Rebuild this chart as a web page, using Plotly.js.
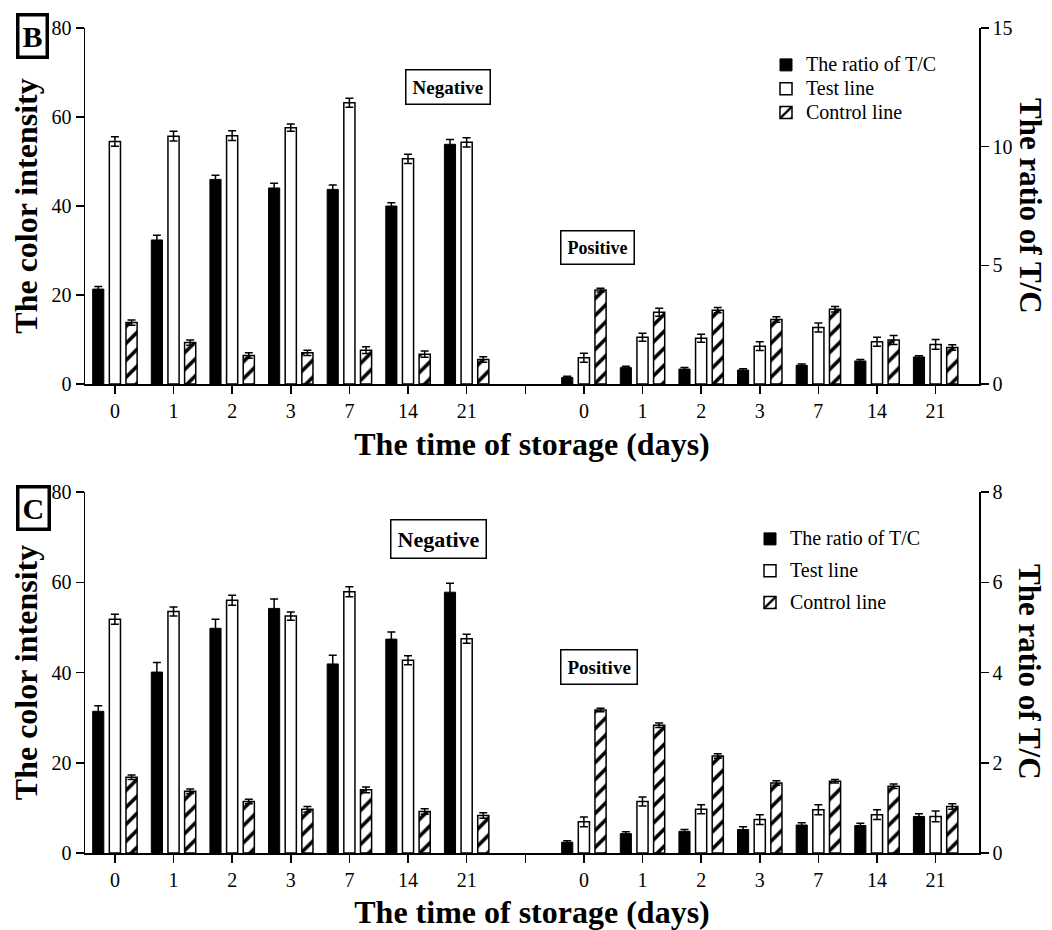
<!DOCTYPE html>
<html>
<head>
<meta charset="utf-8">
<script src="https://cdn.plot.ly/plotly-3.0.1.min.js"></script>
<style>html,body{margin:0;padding:0;background:#fff;}#chart{width:1052px;height:930px;}</style>
</head>
<body>
<div id="chart"></div>
<script>
// ---- data ----
const days = ['0', '1', '2', '3', '7', '14', '21'];

// Panel B
const bNegRatio = [4.0, 6.07, 8.62, 8.26, 8.2, 7.5, 10.1];
const bNegRatioErr = [0.11, 0.2, 0.18, 0.2, 0.18, 0.14, 0.2];
const bNegTest = [54.5, 55.7, 55.8, 57.6, 63.2, 50.6, 54.3];
const bNegTestErr = [1.05, 1.1, 1.1, 0.8, 1.0, 1.05, 1.05];
const bNegCtrl = [13.8, 9.3, 6.4, 7.0, 7.6, 6.7, 5.5];
const bNegCtrlErr = [0.6, 0.6, 0.6, 0.6, 0.75, 0.7, 0.6];
const bPosRatio = [0.28, 0.69, 0.63, 0.59, 0.79, 0.97, 1.14];
const bPosRatioErr = [0.05, 0.06, 0.07, 0.05, 0.05, 0.06, 0.05];
const bPosTest = [5.9, 10.5, 10.3, 8.5, 12.7, 9.5, 8.9];
const bPosTestErr = [1.0, 0.9, 0.9, 1.0, 1.0, 1.0, 1.1];
const bPosCtrl = [21.1, 16.1, 16.6, 14.5, 16.8, 9.9, 8.2];
const bPosCtrlErr = [0.4, 0.9, 0.6, 0.6, 0.6, 1.0, 0.6];

// Panel C
const cNegRatio = [3.14, 4.01, 4.98, 5.42, 4.19, 4.74, 5.78];
const cNegRatioErr = [0.125, 0.21, 0.2, 0.21, 0.19, 0.155, 0.2];
const cNegTest = [51.8, 53.5, 56.0, 52.5, 57.9, 42.7, 47.5];
const cNegTestErr = [1.1, 1.0, 1.1, 0.9, 1.1, 1.0, 1.0];
const cNegCtrl = [16.8, 13.7, 11.4, 9.7, 14.0, 9.2, 8.3];
const cNegCtrlErr = [0.5, 0.5, 0.5, 0.6, 0.65, 0.6, 0.6];
const cPosRatio = [0.24, 0.43, 0.48, 0.52, 0.62, 0.61, 0.81];
const cPosRatioErr = [0.03, 0.04, 0.04, 0.06, 0.05, 0.05, 0.06];
const cPosTest = [6.9, 11.4, 9.7, 7.4, 9.6, 8.5, 8.1];
const cPosTestErr = [1.1, 1.0, 1.0, 1.1, 1.1, 1.1, 1.2];
const cPosCtrl = [31.7, 28.3, 21.5, 15.5, 15.9, 14.8, 10.3];
const cPosCtrlErr = [0.4, 0.5, 0.5, 0.5, 0.4, 0.5, 0.6];

const seriesNames = ['The ratio of T/C', 'Test line', 'Control line'];
const groupLabels = ['Negative', 'Positive'];

// ---- build ----
const FONT = 'Liberation Serif, Times New Roman, serif';
const negX = days.map((d, i) => i);
const posX = days.map((d, i) => i + days.length + 1);
const xs = negX.concat(posX);
const tickVals = negX.concat([days.length]).concat(posX);
const tickText = days.concat(['']).concat(days);

const BW = 0.19, PITCH = 0.284;
function errY(arr) {
  return {type: 'data', array: arr, visible: true, color: 'black', thickness: 1.5, width: 4};
}
function legName(s, size) {
  return '<span style="font-size:' + size + 'px">' + s + '</span>';
}
function panelTraces(xa, yl, yr, legendId, ratio, ratioErr, test, testErr, ctrl, ctrlErr, gapName, nameSize) {
  return [
    {type: 'bar', name: legName(seriesNames[0], nameSize), x: xs, y: ratio, xaxis: xa, yaxis: yr, legend: legendId,
     legendgroup: gapName + 'a', width: BW, offset: -PITCH - BW / 2,
     marker: {color: 'black', line: {color: 'black', width: 1}}, error_y: errY(ratioErr), hoverinfo: 'y'},
    {type: 'bar', name: legName(seriesNames[1], nameSize), x: xs, y: test, xaxis: xa, yaxis: yl, legend: legendId,
     legendgroup: gapName + 'b', width: BW, offset: -BW / 2,
     marker: {color: 'white', line: {color: 'black', width: 1.5}}, error_y: errY(testErr), hoverinfo: 'y'},
    {type: 'bar', name: legName(seriesNames[2], nameSize), x: xs, y: ctrl, xaxis: xa, yaxis: yl, legend: legendId,
     legendgroup: gapName + 'c', width: BW, offset: PITCH - BW / 2,
     marker: {color: 'white', line: {color: 'black', width: 1.5},
              pattern: {shape: '/', fgcolor: 'black', bgcolor: 'white', size: 12, solidity: 0.3}},
     error_y: errY(ctrlErr), hoverinfo: 'y'}
  ];
}

const data = []
  .concat(panelTraces('x', 'y', 'y2', 'legend',
    bNegRatio.concat(bPosRatio), bNegRatioErr.concat(bPosRatioErr),
    bNegTest.concat(bPosTest), bNegTestErr.concat(bPosTestErr),
    bNegCtrl.concat(bPosCtrl), bNegCtrlErr.concat(bPosCtrlErr), 'B', 20))
  .concat(panelTraces('x2', 'y3', 'y4', 'legend2',
    cNegRatio.concat(cPosRatio), cNegRatioErr.concat(cPosRatioErr),
    cNegTest.concat(cPosTest), cNegTestErr.concat(cPosTestErr),
    cNegCtrl.concat(cPosCtrl), cNegCtrlErr.concat(cPosCtrlErr), 'C', 20));

const W = 1052, H = 930;
const px = v => v / W;
const py = v => 1 - v / H;
const xDomain = [px(85), px(979)];
const xRange = [-0.51, 14.74];

function xAxis(anchor) {
  return {
    domain: xDomain, range: xRange, anchor: anchor, tickmode: 'array', tickvals: tickVals, ticktext: tickText,
    showline: true, linecolor: 'black', linewidth: 1.5, ticks: 'outside', ticklen: 8, tickwidth: 1.5, tickcolor: 'black',
    showgrid: false, zeroline: false, tickfont: {family: FONT, size: 20, color: 'black'},
    title: {text: '<b>The time of storage (days)</b>', font: {family: FONT, size: 32, color: 'black'}, standoff: 12},
    fixedrange: true
  };
}
function yLeft(domain, anchor) {
  return {
    domain: domain, range: [0, 80], anchor: anchor, tickvals: [0, 20, 40, 60, 80],
    showline: true, linecolor: 'black', linewidth: 1.5, ticks: 'outside', ticklen: 8, tickwidth: 1.5, tickcolor: 'black',
    showgrid: false, zeroline: false, tickfont: {family: FONT, size: 20, color: 'black'},
    title: {text: '<b>The color intensity</b>', font: {family: FONT, size: 32, color: 'black'}, standoff: 4},
    fixedrange: true
  };
}
function yRight(overlay, anchor, max, dtick) {
  return {
    overlaying: overlay, side: 'right', anchor: anchor, range: [0, max], tick0: 0, dtick: dtick,
    showline: true, linecolor: 'black', linewidth: 1.5, ticks: 'outside', ticklen: 8, tickwidth: 1.5, tickcolor: 'black',
    showgrid: false, zeroline: false, tickfont: {family: FONT, size: 20, color: 'black'},
    fixedrange: true
  };
}

const bDomain = [py(384), py(28)];
const cDomain = [py(853), py(492)];

function boxLabel(text, x, y, size, pad, bw) {
  return {text: text, xref: 'paper', yref: 'paper', x: px(x), y: py(y), xanchor: 'center', yanchor: 'middle',
          showarrow: false, font: {family: FONT, size: size, color: 'black'},
          bordercolor: 'black', borderwidth: bw, borderpad: pad, bgcolor: 'white'};
}
function rightTitle(y) {
  return {text: '<b>The ratio of T/C</b>', xref: 'paper', yref: 'paper', x: px(1030), y: py(y),
          xanchor: 'center', yanchor: 'middle', textangle: 90, showarrow: false,
          font: {family: FONT, size: 31, color: 'black'}};
}

const layout = {
  width: W, height: H, margin: {l: 0, r: 0, t: 0, b: 0},
  paper_bgcolor: 'white', plot_bgcolor: 'rgba(0,0,0,0)',
  font: {family: FONT, color: 'black'},
  showlegend: true,
  barmode: 'overlay',
  xaxis: xAxis('y'),
  yaxis: yLeft(bDomain, 'x'),
  yaxis2: yRight('y', 'x', 15, 5),
  xaxis2: xAxis('y3'),
  yaxis3: yLeft(cDomain, 'x2'),
  yaxis4: yRight('y3', 'x2', 8, 2),
  legend: {x: px(766), y: py(48), xanchor: 'left', yanchor: 'top', bgcolor: 'rgba(0,0,0,0)',
           font: {family: FONT, size: 16, color: 'black'}, tracegroupgap: 0, traceorder: 'normal'},
  legend2: {x: px(750), y: py(522), xanchor: 'left', yanchor: 'top', bgcolor: 'rgba(0,0,0,0)',
            font: {family: FONT, size: 16, color: 'black'}, tracegroupgap: 8, traceorder: 'grouped'},
  annotations: [
    boxLabel('<b>B</b>', 32, 36, 30, 3, 3.5),
    boxLabel('<b>C</b>', 33, 508, 30, 3, 3.5),
    boxLabel('<b>' + groupLabels[0] + '</b>', 448, 87, 19, 6, 1.5),
    boxLabel('<b>' + groupLabels[1] + '</b>', 597, 247, 18, 6, 1.5),
    boxLabel('<b>' + groupLabels[0] + '</b>', 438, 539, 22, 6, 1.5),
    boxLabel('<b>' + groupLabels[1] + '</b>', 599, 667, 19, 6, 1.5),
    rightTitle(206),
    rightTitle(672)
  ]
};

Plotly.newPlot('chart', data, layout, {displayModeBar: false, staticPlot: true});
</script>
</body>
</html>
